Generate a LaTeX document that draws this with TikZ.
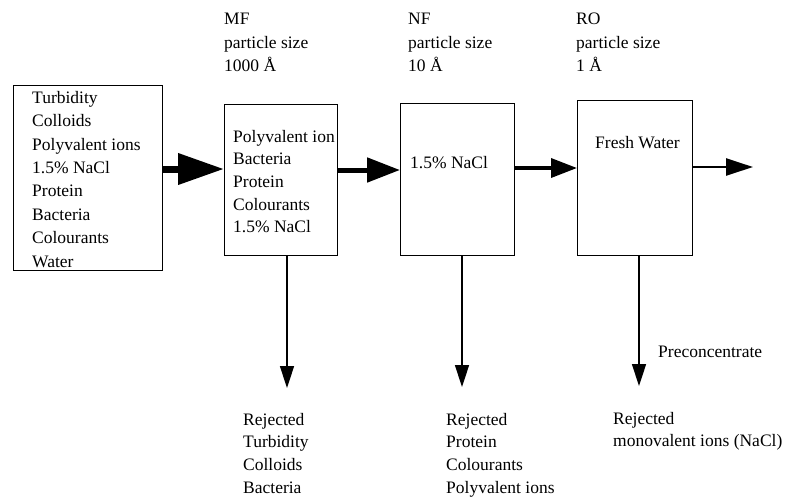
\documentclass[tikz,border=0pt]{standalone}
\usepackage{fontspec}
\setmainfont{Liberation Serif}
\usetikzlibrary{arrows.meta}
\begin{document}
\begin{tikzpicture}[x=1pt,y=-1pt,
  box/.style={draw,line width=1.2pt,inner sep=0pt,anchor=north west},
  txt/.style={align=left,anchor=north west,inner sep=0pt,font=\fontsize{17.5}{23.4}\selectfont},
  rej/.style={txt,font=\fontsize{17.5}{22.6}\selectfont},
  down/.style={line width=1.5pt,-{Triangle[length=22pt,width=14pt]}}]
\useasboundingbox (0,0) rectangle (786,499);
% boxes
\node[box,minimum width=149pt,minimum height=185pt] (feed) at (13,85) {};
\node[box,minimum width=113pt,minimum height=151pt] (mf) at (224,104) {};
\node[box,minimum width=114pt,minimum height=152pt] (nf) at (400,103) {};
\node[box,minimum width=115pt,minimum height=155pt] (ro) at (577,100) {};
% box texts
\node[txt] (feedt) at (32,91) {Turbidity\\Colloids\\Polyvalent ions\\1.5\% NaCl\\Protein\\Bacteria\\Colourants\\Water};
\node[rej] (mft) at (233,130) {Polyvalent ion\\Bacteria\\Protein\\Colourants\\1.5\% NaCl};
\node[txt] (nft) at (410,156) {1.5\% NaCl};
\node[txt] (rot) at (595,136) {Fresh Water};
% headers
\node[txt] (mfh) at (224,13) {MF\\particle size\\1000 Å};
\node[txt] (nfh) at (408,13) {NF\\particle size\\10 Å};
\node[txt] (roh) at (576,13) {RO\\particle size\\1 Å};
% flow arrows
\coordinate (out) at (753,167);
\draw[line width=7pt,-{Triangle[length=46pt,width=30pt]}] (feed.east |- 0,169) -- (mf.west |- 0,169);
\draw[line width=5pt,-{Triangle[length=33pt,width=24pt]}] (mf.east |- 0,170) -- (nf.west |- 0,170);
\draw[line width=3.5pt,-{Triangle[length=26pt,width=19pt]}] (nf.east |- 0,168) -- (ro.west |- 0,168);
\draw[line width=2.5pt,-{Triangle[length=27pt,width=17pt]}] (ro.east |- out) -- (out);
% reject arrows
\coordinate (mfr) at (287,388);
\coordinate (nfr) at (462,387);
\coordinate (ror) at (639,386);
\draw[down] (mf.south -| mfr) -- (mfr);
\draw[down] (nf.south -| nfr) -- (nfr);
\draw[down] (ro.south -| ror) -- (ror);
% reject labels
\node[txt] (pre) at (658,346) {Preconcentrate};
\node[rej] (mfrt) at (243,413) {Rejected\\Turbidity\\Colloids\\Bacteria};
\node[rej] (nfrt) at (446,413) {Rejected\\Protein\\Colourants\\Polyvalent ions};
\node[rej] (rort) at (613,412) {Rejected\\monovalent ions (NaCl)};
\end{tikzpicture}
\end{document}
